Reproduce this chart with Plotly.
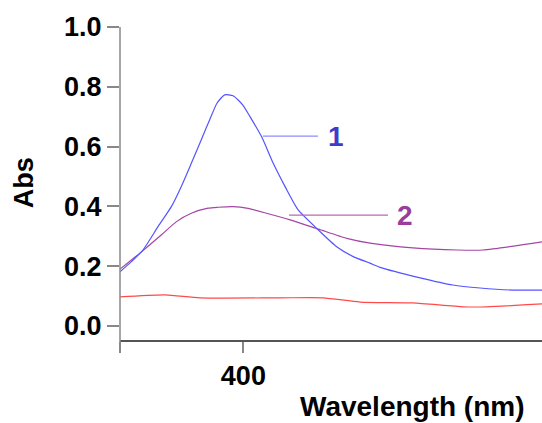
import plotly.graph_objects as go

# Wavelength (nm) and absorbance
wl_1 = [350.0, 354.6, 359.3, 365.4, 370.8, 374.8, 378.9, 382.9, 386.3, 389.3, 392.4,
        395.8, 399.8, 402.7, 407.4, 412.1, 416.9, 422.2, 430.4, 437.8, 444.5, 451.3,
        455.4, 471.6, 484.9, 495.9, 509.2, 521.0]
abs_1 = [0.181, 0.215, 0.254, 0.332, 0.399, 0.466, 0.544, 0.622, 0.689, 0.745, 0.773,
         0.770, 0.739, 0.700, 0.633, 0.544, 0.466, 0.388, 0.321, 0.265, 0.232, 0.210,
         0.196, 0.161, 0.137, 0.127, 0.120, 0.120]

wl_2 = [350.0, 359.3, 366.7, 372.9, 378.9, 385.7, 389.7, 395.8, 401.9, 409.4, 418.9,
        430.4, 441.9, 451.3, 468.7, 486.6, 497.1, 521.0]
abs_2 = [0.190, 0.252, 0.304, 0.349, 0.377, 0.394, 0.397, 0.399, 0.393, 0.377, 0.355,
         0.324, 0.293, 0.277, 0.261, 0.254, 0.254, 0.281]

wl_0 = [350.0, 368.2, 382.4, 414.8, 432.3, 447.3, 468.7, 489.0, 498.7, 521.0]
abs_0 = [0.097, 0.104, 0.094, 0.094, 0.094, 0.080, 0.077, 0.064, 0.064, 0.074]

y_ticks = [0.0, 0.2, 0.4, 0.6, 0.8, 1.0]
y_tick_text = ["0.0", "0.2", "0.4", "0.6", "0.8", "1.0"]
x_ticks = [350, 400]
x_tick_text = ["", "400"]

FONT = "Liberation Sans, Arial, sans-serif"

fig = go.Figure()
fig.add_trace(go.Scatter(x=wl_0, y=abs_0, mode="lines",
                         line=dict(color="#ff4a4a", width=1.2, shape="spline", smoothing=0.6)))
fig.add_trace(go.Scatter(x=wl_2, y=abs_2, mode="lines",
                         line=dict(color="#a347a3", width=1.2, shape="spline", smoothing=0.6)))
fig.add_trace(go.Scatter(x=wl_1, y=abs_1, mode="lines",
                         line=dict(color="#5555ff", width=1.2, shape="spline", smoothing=0.6)))

# leader lines
fig.add_shape(type="line", x0=407.9, x1=430.2, y0=0.635, y1=0.635, line=dict(color="#8c8cff", width=1.2))
fig.add_shape(type="line", x0=418.5, x1=458.6, y0=0.371, y1=0.371, line=dict(color="#b56ab5", width=1.2))

fig.add_annotation(x=437.5, y=0.635, text="1", showarrow=False, xanchor="center", yanchor="middle",
                   font=dict(family=FONT, size=28, color="#3c3cc8", weight="bold"))
fig.add_annotation(x=465.5, y=0.371, text="2", showarrow=False, xanchor="center", yanchor="middle",
                   font=dict(family=FONT, size=28, color="#9c3c9c", weight="bold"))

# axis titles
fig.add_annotation(xref="paper", yref="paper", x=0.694, y=-0.211, text="Wavelength (nm)",
                   showarrow=False, xanchor="center", yanchor="middle",
                   font=dict(family=FONT, size=28, color="#000000", weight="bold"))
fig.add_annotation(xref="paper", yref="paper", x=-0.228, y=0.503, text="Abs", textangle=-90,
                   showarrow=False, xanchor="center", yanchor="middle",
                   font=dict(family=FONT, size=27, color="#000000", weight="bold"))

fig.update_layout(
    width=542, height=423,
    margin=dict(l=120, r=0, t=27, b=83),
    paper_bgcolor="white", plot_bgcolor="white",
    showlegend=False,
    xaxis=dict(range=[350, 521], tickvals=x_ticks, ticktext=x_tick_text,
               showgrid=False, zeroline=False, showline=True, linecolor="#555555", linewidth=1.5,
               ticks="outside", ticklen=11, tickcolor="#888888", tickwidth=1.5,
               tickfont=dict(family=FONT, size=27, color="#000000", weight="bold")),
    yaxis=dict(range=[-0.047, 1.0], tickvals=y_ticks, ticktext=y_tick_text,
               showgrid=False, zeroline=False, showline=False,
               ticks="outside", ticklen=12, tickcolor="#888888", tickwidth=1.5,
               tickfont=dict(family=FONT, size=27, color="#000000", weight="bold")),
)
# y axis line (extends slightly below x axis as in reference)
fig.add_shape(type="line", xref="paper", yref="paper", x0=0, x1=0, y0=-0.035, y1=1.0,
              line=dict(color="#888888", width=1.5))

fig.write_html("out.html")
